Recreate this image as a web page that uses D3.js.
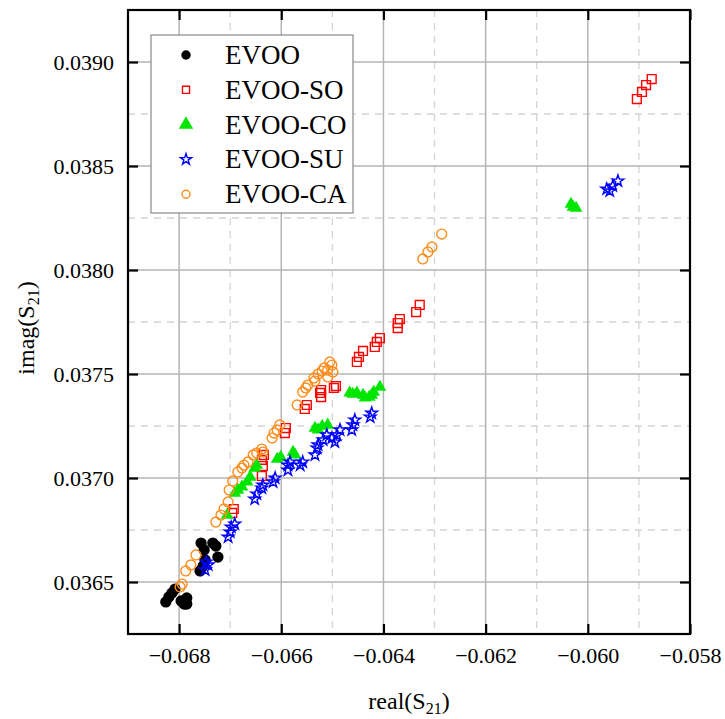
<!DOCTYPE html>
<html>
<head>
<meta charset="utf-8">
<script src="https://cdn.jsdelivr.net/npm/d3@7"></script>
<style>
  html, body { margin: 0; padding: 0; background: #fff; }
  svg { display: block; }
  svg text { font-family: "Liberation Serif", "Times New Roman", serif; }
</style>
</head>
<body>
<svg id="chart" width="725" height="719"></svg>
<script>
// S21 measurements (real, imaginary) for each oil blend
const seriesNames = ["EVOO", "EVOO-SO", "EVOO-CO", "EVOO-SU", "EVOO-CA"];
const seriesColors = ["#000000", "#ff0000", "#00e600", "#0000ff", "#ff8c1a"];

const evooReal = [-0.06826, -0.06820, -0.06814, -0.06808, -0.06796, -0.06790, -0.06785, -0.06785,
  -0.06759, -0.06753, -0.06749, -0.06757, -0.06751, -0.06734, -0.06728, -0.06724];
const evooImag = [0.036404, 0.036428, 0.036447, 0.036466, 0.036409, 0.036394, 0.036423, 0.036394,
  0.036553, 0.036577, 0.036606, 0.036687, 0.036654, 0.036687, 0.036673, 0.036620];

const soReal = [-0.06696, -0.06693, -0.06638, -0.06636, -0.06638, -0.06634, -0.06593, -0.06591,
  -0.06554, -0.06550, -0.06524, -0.06522, -0.06522, -0.06497, -0.06493, -0.06452, -0.06448,
  -0.06440, -0.06417, -0.06413, -0.06407, -0.06372, -0.06372, -0.06368, -0.06336, -0.06329,
  -0.05904, -0.05894, -0.05886, -0.05875];
const soImag = [0.036832, 0.036851, 0.037010, 0.037058, 0.037087, 0.037111, 0.037216, 0.037240,
  0.037332, 0.037351, 0.037409, 0.037389, 0.037423, 0.037433, 0.037442, 0.037558, 0.037582,
  0.037611, 0.037630, 0.037654, 0.037673, 0.037721, 0.037745, 0.037764, 0.037798, 0.037832,
  0.038822, 0.038856, 0.038889, 0.038918];

const coReal = [-0.06706, -0.06691, -0.06685, -0.06677, -0.06667, -0.06661, -0.06652, -0.06648,
  -0.06608, -0.06601, -0.06577, -0.06573, -0.06534, -0.06528, -0.06520, -0.06509, -0.06466,
  -0.06460, -0.06452, -0.06440, -0.06436, -0.06428, -0.06423, -0.06419, -0.06407,
  -0.06033, -0.06029, -0.06023];
const coImag = [0.036822, 0.036928, 0.036942, 0.036957, 0.036981, 0.037005, 0.037048, 0.037062,
  0.037091, 0.037101, 0.037125, 0.037111, 0.037240, 0.037231, 0.037250, 0.037255, 0.037409,
  0.037404, 0.037409, 0.037399, 0.037385, 0.037389, 0.037399, 0.037413, 0.037437,
  0.038317, 0.038303, 0.038298];

const suReal = [-0.06749, -0.06747, -0.06743, -0.06704, -0.06700, -0.06698, -0.06691, -0.06652,
  -0.06648, -0.06638, -0.06636, -0.06616, -0.06612, -0.06587, -0.06587, -0.06583, -0.06563,
  -0.06558, -0.06534, -0.06530, -0.06528, -0.06518, -0.06511, -0.06501, -0.06495, -0.06491,
  -0.06485, -0.06462, -0.06460, -0.06456, -0.06426, -0.06423,
  -0.05963, -0.05957, -0.05951, -0.05941];
const suImag = [0.036558, 0.036596, 0.036582, 0.036716, 0.036740, 0.036764, 0.036779, 0.036899,
  0.036923, 0.036952, 0.036966, 0.036981, 0.037000, 0.037038, 0.037062, 0.037077, 0.037062,
  0.037077, 0.037111, 0.037144, 0.037159, 0.037183, 0.037207, 0.037192, 0.037173, 0.037207,
  0.037231, 0.037231, 0.037255, 0.037279, 0.037293, 0.037312,
  0.038389, 0.038380, 0.038404, 0.038428];

const caReal = [-0.06798, -0.06794, -0.06787, -0.06777, -0.06767, -0.06728, -0.06718, -0.06712,
  -0.06704, -0.06702, -0.06695, -0.06685, -0.06677, -0.06673, -0.06665, -0.06655, -0.06648,
  -0.06638, -0.06636, -0.06618, -0.06614, -0.06608, -0.06603, -0.06569, -0.06558, -0.06552,
  -0.06548, -0.06534, -0.06536, -0.06528, -0.06520, -0.06516, -0.06509, -0.06505, -0.06501,
  -0.06509, -0.06499, -0.06323, -0.06313, -0.06305, -0.06286];
const caImag = [0.036476, 0.036490, 0.036553, 0.036582, 0.036630, 0.036788, 0.036822, 0.036851,
  0.036885, 0.036942, 0.036986, 0.037029, 0.037048, 0.037062, 0.037077, 0.037111, 0.037120,
  0.037139, 0.037125, 0.037192, 0.037216, 0.037231, 0.037255, 0.037351, 0.037413, 0.037433,
  0.037447, 0.037466, 0.037481, 0.037500, 0.037514, 0.037529, 0.037519, 0.037558, 0.037543,
  0.037486, 0.037510, 0.038053, 0.038087, 0.038111, 0.038173];

// Axis ticks
const xMajorTicks = [-0.068, -0.066, -0.064, -0.062, -0.060, -0.058];
const xMinorTicks = [-0.067, -0.065, -0.063, -0.061, -0.059];
const yMajorTicks = [0.0365, 0.0370, 0.0375, 0.0380, 0.0385, 0.0390];
const yMinorTicks = [0.03675, 0.03725, 0.03775, 0.03825, 0.03875];
const xTickLabels = ["\u22120.068", "\u22120.066", "\u22120.064", "\u22120.062", "\u22120.060", "\u22120.058"];
const yTickLabels = ["0.0365", "0.0370", "0.0375", "0.0380", "0.0385", "0.0390"];

const seriesData = [
  { real: evooReal, imag: evooImag },
  { real: soReal, imag: soImag },
  { real: coReal, imag: coImag },
  { real: suReal, imag: suImag },
  { real: caReal, imag: caImag }
];

const plotLeft = 128, plotRight = 690, plotTop = 10, plotBottom = 634;
const x = d3.scaleLinear().domain([-0.069, -0.058]).range([plotLeft, plotRight]);
const y = d3.scaleLinear().domain([0.03625, 0.03925]).range([plotBottom, plotTop]);
const serif = "'Liberation Serif', 'Times New Roman', serif";

const svg = d3.select("#chart");

// Grid: dashed minor lines, solid major lines
const grid = svg.append("g");
grid.selectAll(".xminor").data(xMinorTicks).join("line")
  .attr("x1", d => x(d)).attr("x2", d => x(d)).attr("y1", plotTop).attr("y2", plotBottom)
  .attr("stroke", "#d4d4d4").attr("stroke-width", 1.3).attr("stroke-dasharray", "7,6");
grid.selectAll(".yminor").data(yMinorTicks).join("line")
  .attr("y1", d => y(d)).attr("y2", d => y(d)).attr("x1", plotLeft).attr("x2", plotRight)
  .attr("stroke", "#d4d4d4").attr("stroke-width", 1.3).attr("stroke-dasharray", "7,6");
grid.selectAll(".xmajor").data(xMajorTicks.slice(0, -1)).join("line")
  .attr("x1", d => x(d)).attr("x2", d => x(d)).attr("y1", plotTop).attr("y2", plotBottom)
  .attr("stroke", "#b4b4b4").attr("stroke-width", 1.5);
grid.selectAll(".ymajor").data(yMajorTicks).join("line")
  .attr("y1", d => y(d)).attr("y2", d => y(d)).attr("x1", plotLeft).attr("x2", plotRight)
  .attr("stroke", "#b4b4b4").attr("stroke-width", 1.5);

// Axes with inward ticks on all four sides
const tickLen = 10;
const xFmt = d => xTickLabels[xMajorTicks.indexOf(d)];
const yFmt = d => yTickLabels[yMajorTicks.indexOf(d)];

const axisBottom = svg.append("g").attr("transform", `translate(0,${plotBottom})`)
  .call(d3.axisBottom(x).tickValues(xMajorTicks).tickSizeInner(-tickLen).tickSizeOuter(0)
    .tickPadding(13).tickFormat(xFmt));
const axisTop = svg.append("g").attr("transform", `translate(0,${plotTop})`)
  .call(d3.axisTop(x).tickValues(xMajorTicks).tickSizeInner(-tickLen).tickSizeOuter(0).tickFormat(""));
const axisLeft = svg.append("g").attr("transform", `translate(${plotLeft},0)`)
  .call(d3.axisLeft(y).tickValues(yMajorTicks).tickSizeInner(-tickLen).tickSizeOuter(0)
    .tickPadding(14).tickFormat(yFmt));
const axisRight = svg.append("g").attr("transform", `translate(${plotRight},0)`)
  .call(d3.axisRight(y).tickValues(yMajorTicks).tickSizeInner(-tickLen).tickSizeOuter(0).tickFormat(""));

[axisBottom, axisTop, axisLeft, axisRight].forEach(g => {
  g.attr("font-family", serif).attr("font-size", 22);
  g.select(".domain").remove();
  g.selectAll(".tick line").attr("stroke", "#000").attr("stroke-width", 2.2);
  g.selectAll(".tick text").attr("fill", "#000")
    .style("font-family", serif).style("font-size", "22px");
});

// Frame
svg.append("rect").attr("x", plotLeft).attr("y", plotTop)
  .attr("width", plotRight - plotLeft).attr("height", plotBottom - plotTop)
  .attr("fill", "none").attr("stroke", "#000").attr("stroke-width", 2.2);

// Marker shapes per series
const markerDefs = [
  { type: d3.symbolCircle, size: 100, filled: true },
  { type: d3.symbolSquare, size: 78, filled: false },
  { type: d3.symbolTriangle, size: 70, filled: true },
  { type: d3.symbolStar, size: 42, filled: false },
  { type: d3.symbolCircle, size: 76, filled: false }
];

const plot = svg.append("g");
seriesData.forEach((s, i) => {
  const pts = s.real.map((r, k) => [r, s.imag[k]]);
  const m = markerDefs[i];
  plot.append("g").selectAll("path").data(pts).join("path")
    .attr("d", d3.symbol().type(m.type).size(m.size))
    .attr("transform", d => `translate(${x(d[0])},${y(d[1])})`)
    .attr("fill", m.filled ? seriesColors[i] : "none")
    .attr("stroke", seriesColors[i])
    .attr("stroke-width", m.filled ? 0 : 1.4);
});

// Legend
const legend = svg.append("g");
legend.append("rect").attr("x", 151).attr("y", 35).attr("width", 202).attr("height", 178)
  .attr("fill", "#fff").attr("stroke", "#888").attr("stroke-width", 1.2);
const legendSizes = [70, 50, 90, 38, 50];
seriesNames.forEach((name, i) => {
  const cy = 55 + i * 34.8;
  const m = markerDefs[i];
  legend.append("path")
    .attr("d", d3.symbol().type(m.type).size(legendSizes[i]))
    .attr("transform", `translate(186,${cy})`)
    .attr("fill", m.filled ? seriesColors[i] : "none")
    .attr("stroke", seriesColors[i])
    .attr("stroke-width", m.filled ? 0 : 1.4);
  legend.append("text").attr("x", 225).attr("y", cy + 9)
    .attr("font-size", 27).attr("fill", "#000").text(name);
});

// Axis titles with subscripts
const xTitle = svg.append("text").attr("x", (plotLeft + plotRight) / 2).attr("y", 709)
  .attr("text-anchor", "middle").attr("font-size", 24).attr("fill", "#000");
xTitle.append("tspan").text("real(S");
xTitle.append("tspan").attr("font-size", 16).attr("dy", 5).text("21");
xTitle.append("tspan").attr("dy", -5).text(")");

const yTitle = svg.append("text")
  .attr("transform", `translate(34,${(plotTop + plotBottom) / 2 + 6}) rotate(-90)`)
  .attr("text-anchor", "middle").attr("font-size", 24).attr("fill", "#000");
yTitle.append("tspan").text("imag(S");
yTitle.append("tspan").attr("font-size", 16).attr("dy", 5).text("21");
yTitle.append("tspan").attr("dy", -5).text(")");
</script>
</body>
</html>
